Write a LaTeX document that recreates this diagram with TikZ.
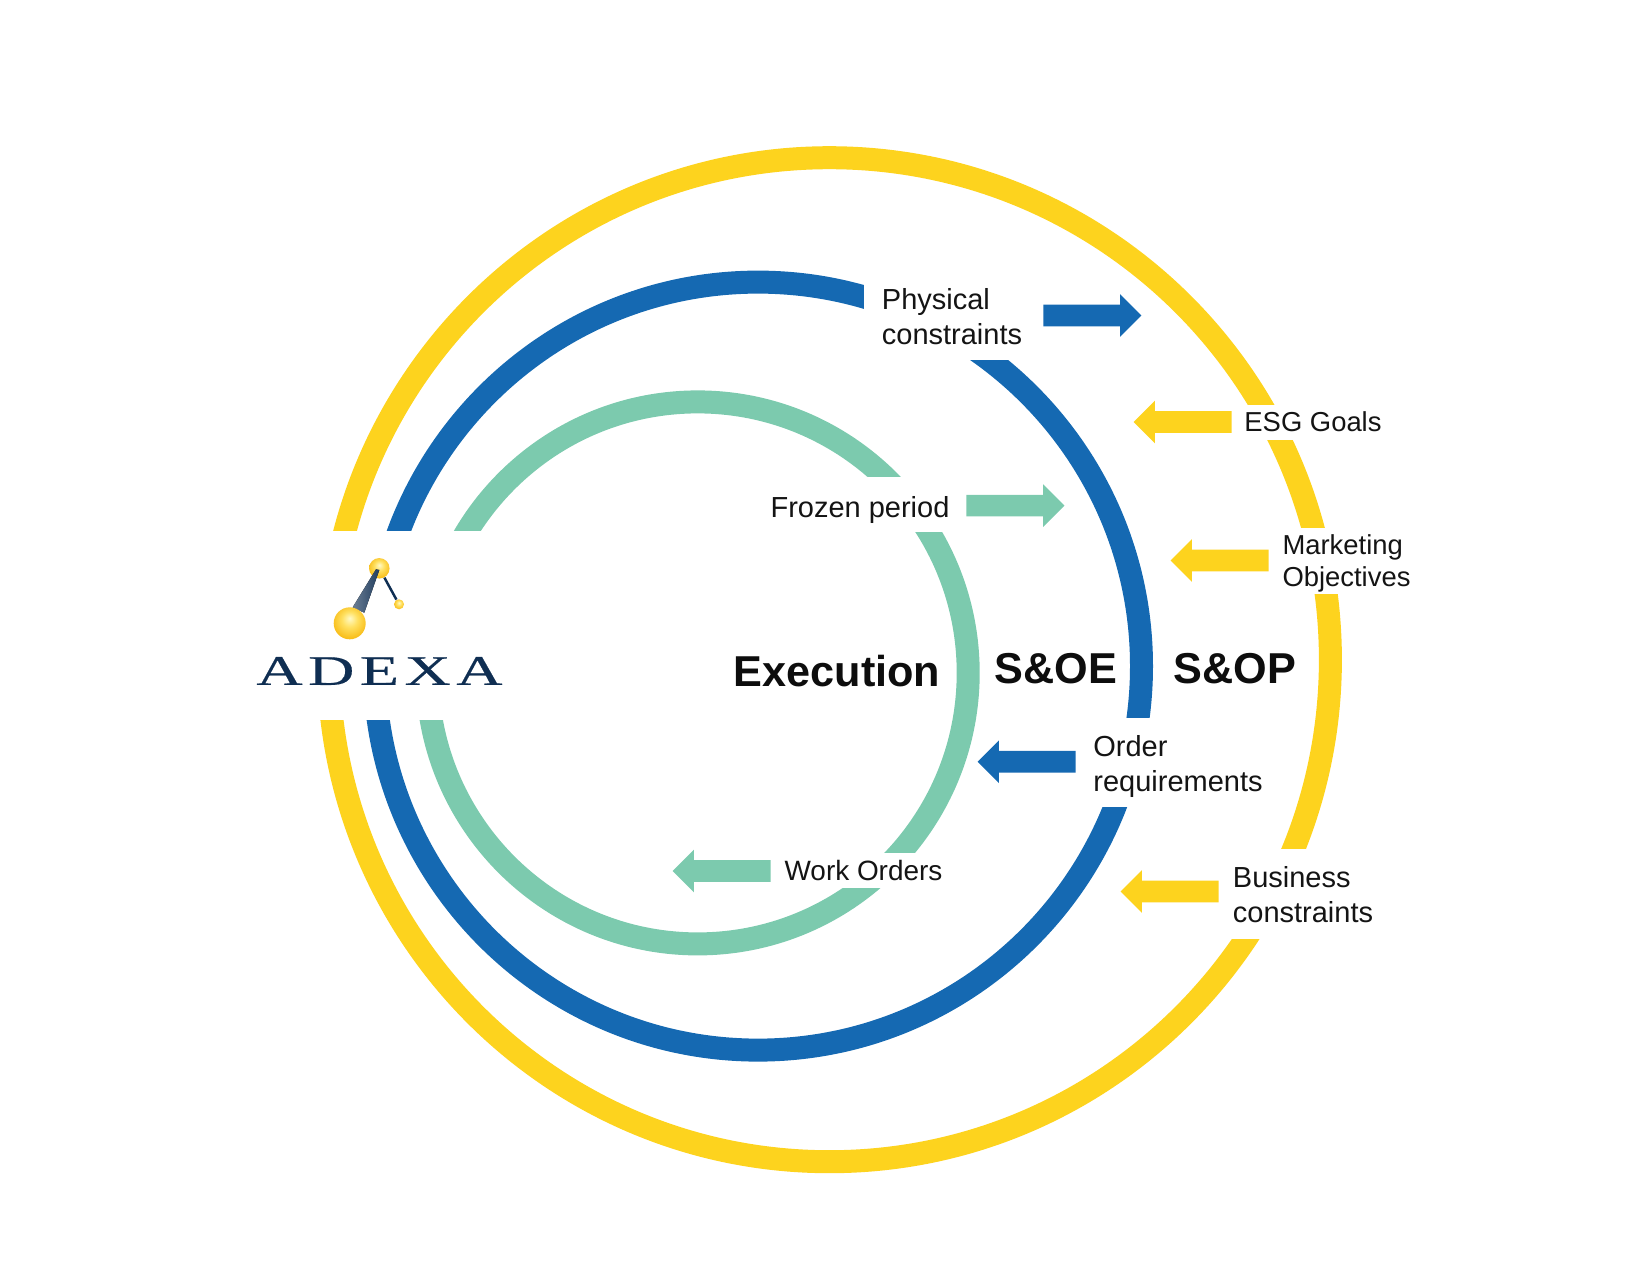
\documentclass[tikz,border=0pt]{standalone}
\usepackage{fontspec}
\usepackage{tikz}
\usetikzlibrary{
        positioning,
        shapes.arrows
    }
\setmainfont{Liberation Sans}
\newfontfamily\logofont[FakeStretch=1.52,LetterSpace=13,FakeBold=0.4]{Liberation Serif}
\definecolor{ringyellow}{HTML}{FDD31E}
\definecolor{ringblue}{HTML}{1569B2}
\definecolor{ringgreen}{HTML}{7CCAAE}
\definecolor{logonavy}{HTML}{0F2E52}
\pgfdeclareradialshading{logosphere}{\pgfpoint{0bp}{8bp}}{rgb(0bp)=(1,.98,.78); rgb(12bp)=(1,.88,.38); rgb(30bp)=(.97,.72,.05); rgb(50bp)=(.97,.72,.05)}
\tikzset{x=0.02cm,y=-0.02cm,node distance=2cm}
\tikzset{ring/.style={line width=0.46cm}}
\tikzset{caption/.style={inner sep=0pt,align=left,text=black!92,font=\fontsize{16.5}{20}\selectfont}}
\tikzset{small caption/.style={caption,font=\fontsize{15.6}{20}\selectfont}}
\tikzset{cycle name/.style={inner sep=0pt,text=black!95,font=\fontsize{24.6}{29}\selectfont\bfseries}}
\tikzset{block/.style={single arrow,draw=none,inner sep=0pt,text height=0.21cm,text depth=0.21cm,minimum height=1.96cm,single arrow head extend=0.21cm,single arrow head indent=0pt}}
\tikzset{block right/.style={block,xshift=-0.1cm}}
\tikzset{block left/.style={block,shape border rotate=180,xshift=0.1cm}}
\tikzset{sphere/.style={circle,inner sep=0pt,shading=logosphere}}

\begin{document}
\begin{tikzpicture}
                \useasboundingbox (0,0) rectangle (1650,1275);
                \draw[ring,ringyellow] (829.4,659.7) ellipse (501 and 502);
                \draw[ring,ringblue] (758,666.1) ellipse (383.5 and 384);
                \draw[ring,ringgreen] (697.7,672.9) ellipse (270.5 and 271);

                \fill[white] (290,531) rectangle (500,720);
                \fill[white] (864,250) rectangle (1030,359.5);
                \fill[white] (1240,405) rectangle (1390,440);
                \fill[white] (1278,528) rectangle (1420,594);
                \fill[white] (765,477) rectangle (960,531.5);
                \fill[white] (1085,718) rectangle (1280,807);
                \fill[white] (1225,849) rectangle (1390,939);
                \fill[white] (778,853) rectangle (945,888);

                \node[caption] (physical) at (952,316.5) {Physical\\constraints};
                \node[small caption] (esg) at (1313,422) {ESG Goals};
                \node[small caption] (marketing) at (1346.5,563.5) {Marketing\\[-1.5pt]Objectives};
                \node[caption] (frozen) at (860,509.5) {Frozen period};
                \node[caption] (order) at (1178,766.5) {Order\\requirements};
                \node[caption] (business) at (1303,895) {Business\\constraints};
                \node[small caption,font=\fontsize{15.9}{20}\selectfont] (work) at (863.5,871) {Work Orders};

                \node[block right,fill=ringblue] (physicalarrow) [right of=physical,node distance=2.8cm,yshift=0.6pt] {};
                \node[block left,fill=ringyellow] (esgarrow) [left of=esg,node distance=2.6cm] {};
                \node[block left,fill=ringyellow] (marketingarrow) [left of=marketing,node distance=2.53cm,yshift=1.7pt] {};
                \node[block right,fill=ringgreen] (frozenarrow) [right of=frozen,node distance=3.1cm,yshift=2.2pt] {};
                \node[block left,fill=ringblue] (orderarrow) [left of=order,node distance=3.02cm,yshift=2.7pt] {};
                \node[block left,fill=ringyellow] (businessarrow) [left of=business,node distance=2.66cm,yshift=2pt] {};
                \node[block left,fill=ringgreen] (workarrow) [left of=work,node distance=2.83cm] {};

                \node[cycle name] (execution) at (837,671) {Execution};
                \node[cycle name] (soe) at (1056,669) {S\&OE};
                \node[cycle name] (sop) at (1235,669) {S\&OP};

                \node[sphere,minimum size=0.41cm] (topball) at (379.3,568.3) {};
                \fill[left color=logonavy!62!white,right color=logonavy!92!white] (352.7,607.3) -- (364.3,612.7) -- (379.3,570) -- (376,569.3) -- cycle;
                \node[sphere,minimum size=0.64cm] (bigball) at (349.7,623.3) {};
                \node[sphere,minimum size=0.2cm] (smallball) at (399,604.3) {};
                \draw[logonavy,line width=1.4pt] (topball) -- (smallball);
                \node[inner sep=0pt,text=logonavy,font=\logofont\fontsize{24}{28}\selectfont] (adexa) at (379.5,671) {ADEXA};
            \end{tikzpicture}
\end{document}
